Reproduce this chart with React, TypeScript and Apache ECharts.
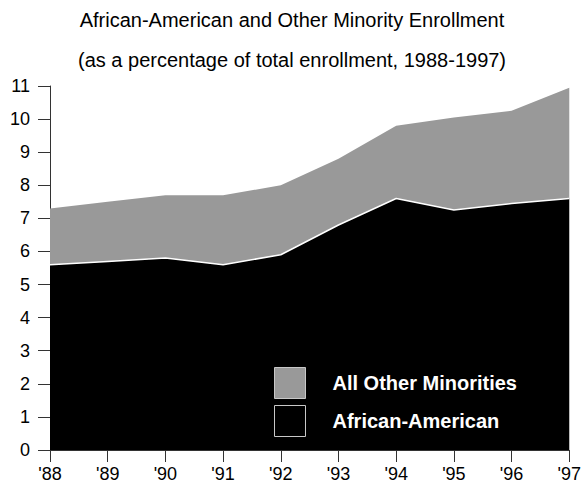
import React, { useEffect, useRef } from "react";
import * as echarts from "echarts";

const years = ["'88", "'89", "'90", "'91", "'92", "'93", "'94", "'95", "'96", "'97"];
const africanAmerican = [5.6, 5.7, 5.8, 5.6, 5.9, 6.8, 7.6, 7.25, 7.45, 7.6];
const otherMinorities = [1.7, 1.8, 1.9, 2.1, 2.1, 2.0, 2.2, 2.8, 2.8, 3.35];

const FONT = "Liberation Sans, Arial, sans-serif";

export default function App() {
  const ref = useRef<HTMLDivElement>(null);
  useEffect(() => {
    if (!ref.current) return;
    const chart = echarts.init(ref.current, undefined, { renderer: "svg" });
    chart.setOption({
      animation: false,
      backgroundColor: "#fff",
      title: {
        text: "African-American and Other Minority Enrollment\n(as a percentage of total enrollment, 1988-1997)",
        left: "center",
        top: -5,
        textStyle: {
          fontFamily: FONT,
          fontSize: 20,
          fontWeight: "normal",
          color: "#000",
          lineHeight: 40,
        },
      },
      legend: {
        orient: "vertical",
        left: 269,
        top: 362,
        itemWidth: 31,
        itemHeight: 31,
        itemGap: 6,
        icon: "rect",
        textStyle: {
          fontFamily: FONT,
          fontSize: 20,
          fontWeight: "bold",
          color: "#fff",
          padding: [0, 0, 0, 22],
        },
        data: [
          { name: "All Other Minorities", itemStyle: { color: "#999999", borderColor: "#c8c8c8", borderWidth: 1 } },
          { name: "African-American", itemStyle: { color: "#000", borderColor: "#c8c8c8", borderWidth: 1 } },
        ],
      },
      grid: { left: 50, right: 14, top: 86, bottom: 41 },
      xAxis: {
        type: "category",
        data: years,
        boundaryGap: false,
        axisLine: { show: true, lineStyle: { color: "#333", width: 1 } },
        axisTick: { show: true, length: 12, alignWithLabel: true, lineStyle: { color: "#333" } },
        axisLabel: { fontFamily: FONT, fontSize: 18, color: "#000", margin: 15 },
        splitLine: { show: false },
      },
      yAxis: {
        type: "value",
        min: 0,
        max: 11,
        interval: 1,
        axisLine: { show: true, lineStyle: { color: "#333", width: 1 } },
        axisTick: { show: true, length: 12, lineStyle: { color: "#333" } },
        axisLabel: { fontFamily: FONT, fontSize: 18, color: "#000", margin: 20 },
        splitLine: { show: false },
      },
      series: [
        {
          name: "African-American",
          type: "line",
          stack: "total",
          data: africanAmerican,
          symbol: "none",
          lineStyle: { color: "#fff", width: 1.5 },
          itemStyle: { color: "#000" },
          areaStyle: { color: "#000", opacity: 1 },
          z: 3,
        },
        {
          name: "All Other Minorities",
          type: "line",
          stack: "total",
          data: otherMinorities,
          symbol: "none",
          lineStyle: { color: "#999999", width: 0 },
          itemStyle: { color: "#999999" },
          areaStyle: { color: "#999999", opacity: 1 },
          z: 2,
        },
      ],
    });
    return () => chart.dispose();
  }, []);
  return (
    <div
      ref={ref}
      style={{ position: "absolute", left: 0, top: 0, width: 584, height: 491 }}
    />
  );
}
